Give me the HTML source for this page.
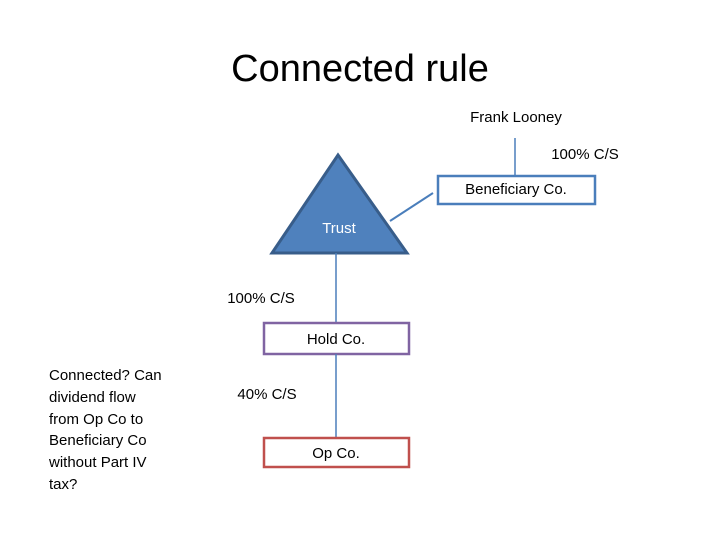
<!DOCTYPE html>
<html><head><style>body{margin:0;background:#fff}svg{display:block}text{font-family:"Liberation Sans",sans-serif}</style></head><body>
<svg width="720" height="540" xmlns="http://www.w3.org/2000/svg">
<text x="360" y="81" text-anchor="middle" font-size="38" fill="#000">Connected rule</text>
<text x="516" y="122" text-anchor="middle" font-size="15">Frank Looney</text>
<line x1="515" y1="138" x2="515" y2="176" stroke="#4a7ebb" stroke-width="1.5"/>
<text x="585" y="159" text-anchor="middle" font-size="15">100% C/S</text>
<rect x="438" y="176" width="157" height="28" fill="#fff" stroke="#4a7ebb" stroke-width="2.5"/>
<text x="516" y="194" text-anchor="middle" font-size="15">Beneficiary Co.</text>
<polygon points="338,155 407,253 272,253" fill="#4f81bd" stroke="#385d8a" stroke-width="3"/>
<line x1="390" y1="221" x2="433" y2="193" stroke="#4a7ebb" stroke-width="2"/>
<text x="339" y="233" text-anchor="middle" font-size="15" fill="#fff">Trust</text>
<line x1="336" y1="253" x2="336" y2="322" stroke="#4a7ebb" stroke-width="1.5"/>
<text x="261" y="303" text-anchor="middle" font-size="15">100% C/S</text>
<rect x="264" y="323" width="145" height="31" fill="#fff" stroke="#8064a2" stroke-width="2.5"/>
<text x="336" y="344" text-anchor="middle" font-size="15">Hold Co.</text>
<line x1="336" y1="354" x2="336" y2="437" stroke="#4a7ebb" stroke-width="1.5"/>
<text x="267" y="399" text-anchor="middle" font-size="15">40% C/S</text>
<rect x="264" y="438" width="145" height="29" fill="#fff" stroke="#c0504d" stroke-width="2.5"/>
<text x="336" y="458" text-anchor="middle" font-size="15">Op Co.</text>
<g font-size="15">
<text x="49" y="380">Connected? Can</text>
<text x="49" y="402">dividend flow</text>
<text x="49" y="424">from Op Co to</text>
<text x="49" y="445">Beneficiary Co</text>
<text x="49" y="467">without Part IV</text>
<text x="49" y="489">tax?</text>
</g>
</svg>
</body></html>
